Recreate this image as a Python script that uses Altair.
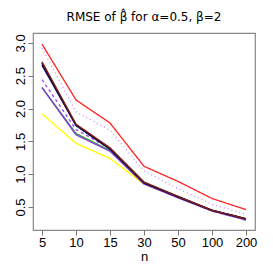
import altair as alt
import pandas as pd

n_labels = ["5", "10", "15", "30", "50", "100", "200"]

red = [2.98, 2.13, 1.78, 1.12, 0.89, 0.63, 0.46]
violet_dot = [2.92, 1.95, 1.67, 1.05, 0.78, 0.54, 0.39]
yellow = [1.92, 1.47, 1.24, 0.85, 0.65, 0.45, 0.32]
green = [2.32, 1.62, 1.36, 0.86, 0.65, 0.44, 0.31]
purple = [2.32, 1.60, 1.35, 0.85, 0.64, 0.44, 0.30]
purple_dash = [2.44, 1.68, 1.39, 0.86, 0.65, 0.44, 0.31]
blue = [2.66, 1.74, 1.38, 0.87, 0.65, 0.45, 0.32]
black = [2.69, 1.75, 1.39, 0.87, 0.66, 0.45, 0.32]
brown = [2.71, 1.76, 1.40, 0.88, 0.66, 0.45, 0.32]

names = ["red", "violet", "yellow", "green", "purple", "purpledash", "blue", "black", "brown"]
values = [red, violet_dot, yellow, green, purple, purple_dash, blue, black, brown]
colors = ["#FF2020", "#CC88FF", "#FFFF00", "#33AA33", "#8040D0", "#A050FF", "#101090", "#000000", "#7A1E1E"]
dashes = [[1, 0], [1, 3], [1, 0], [1, 0], [1, 0], [3, 3], [1, 0], [1, 0], [1, 0]]
widths = [1.3, 1.5, 1.4, 1.2, 1.4, 1.6, 1.6, 1.6, 1.6]

rows = []
for k, (nm, vals) in enumerate(zip(names, values)):
    for n, v in zip(n_labels, vals):
        rows.append({"s": nm, "n": n, "v": v, "o": k})
df = pd.DataFrame(rows)

FONT = "Liberation Sans"

chart = alt.Chart(df).mark_line().encode(
    x=alt.X("n:O", sort=n_labels,
            scale=alt.Scale(domain=n_labels, type="point", padding=0.265),
            axis=alt.Axis(title="n", labelAngle=0, tickSize=5, domain=False,
                          tickColor="#777777", labelFont=FONT, labelFontSize=13,
                          labelColor="#000000", labelPadding=1,
                          titleFont=FONT, titleFontSize=13, titleFontWeight="normal",
                          titlePadding=1, titleColor="#000000")),
    y=alt.Y("v:Q", scale=alt.Scale(domain=[0.15, 3.15], nice=False, zero=False),
            axis=alt.Axis(title=None, values=[0.5, 1.0, 1.5, 2.0, 2.5, 3.0], format=".1f",
                          labelAngle=270, labelAlign="center", labelBaseline="bottom",
                          tickSize=5, domain=False, grid=False, tickColor="#777777",
                          labelFont=FONT, labelFontSize=13, labelColor="#000000",
                          labelPadding=1)),
    color=alt.Color("s:N", scale=alt.Scale(domain=names, range=colors), legend=None),
    strokeDash=alt.StrokeDash("s:N", scale=alt.Scale(domain=names, range=dashes), legend=None),
    strokeWidth=alt.StrokeWidth("s:N", scale=alt.Scale(domain=names, range=widths), legend=None),
    detail="s:N",
    order=alt.Order("o:Q"),
).properties(
    width=222,
    height=197,
    padding={"left": 25, "top": 25, "right": 10, "bottom": 35},
    autosize=alt.AutoSizeParams(type="none"),
    title=alt.TitleParams(
        text="RMSE of  \u03b2\u0302  for \u03b1=0.5, \u03b2=2",
        font="DejaVu Sans", fontSize=12, fontWeight="normal", anchor="middle", offset=9,
        color="#000000",
    ),
).configure_view(stroke="#888888", strokeWidth=1.2).configure_axis(grid=False)

chart.save("out.html", embed_options={"renderer": "svg", "actions": False})
